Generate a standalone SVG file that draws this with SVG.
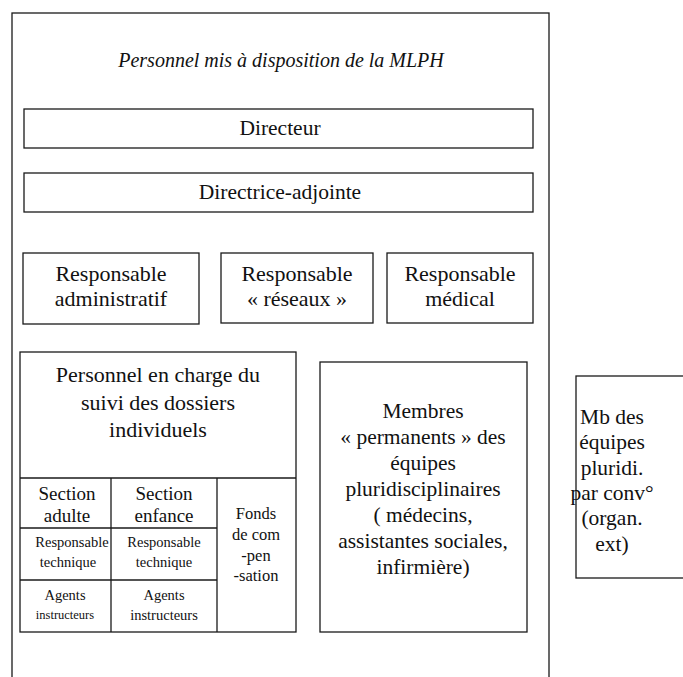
<svg xmlns="http://www.w3.org/2000/svg" width="683" height="677" viewBox="0 0 683 677">
<rect width="683" height="677" fill="#fff"/>
<g fill="none" stroke="#1a1a1a" stroke-width="1.3">
<g id="outer">
<rect x="12" y="13" width="537" height="680"/>
<text font-family="Liberation Serif" fill="#111" stroke="none" text-anchor="middle" font-size="20" font-style="italic" x="281" y="67">Personnel mis &#224; disposition de la MLPH</text>
</g>
<g id="directeur">
<rect x="24" y="109" width="509" height="39"/>
<text font-family="Liberation Serif" fill="#111" stroke="none" text-anchor="middle" font-size="21.5" x="280" y="135">Directeur</text>
</g>
<g id="directrice">
<rect x="24" y="173" width="509" height="39"/>
<text font-family="Liberation Serif" fill="#111" stroke="none" text-anchor="middle" font-size="21.5" x="280" y="199">Directrice-adjointe</text>
</g>
<g id="resp-admin">
<rect x="23" y="253" width="176" height="71"/>
<text font-family="Liberation Serif" fill="#111" stroke="none" text-anchor="middle" font-size="22" x="111" y="281">Responsable</text>
<text font-family="Liberation Serif" fill="#111" stroke="none" text-anchor="middle" font-size="22" x="111" y="306">administratif</text>
</g>
<g id="resp-reseaux">
<rect x="221" y="253" width="152" height="70"/>
<text font-family="Liberation Serif" fill="#111" stroke="none" text-anchor="middle" font-size="22" x="297" y="281">Responsable</text>
<text font-family="Liberation Serif" fill="#111" stroke="none" text-anchor="middle" font-size="22" x="297" y="306">&#171; r&#233;seaux &#187;</text>
</g>
<g id="resp-medical">
<rect x="387" y="253" width="146" height="70"/>
<text font-family="Liberation Serif" fill="#111" stroke="none" text-anchor="middle" font-size="22" x="460" y="281">Responsable</text>
<text font-family="Liberation Serif" fill="#111" stroke="none" text-anchor="middle" font-size="22" x="460" y="306">m&#233;dical</text>
</g>
<g id="personnel">
<rect x="20" y="352" width="276" height="280"/>
<text font-family="Liberation Serif" fill="#111" stroke="none" text-anchor="middle" font-size="22" x="158" y="382">Personnel en charge du</text>
<text font-family="Liberation Serif" fill="#111" stroke="none" text-anchor="middle" font-size="22" x="158" y="410">suivi des dossiers</text>
<text font-family="Liberation Serif" fill="#111" stroke="none" text-anchor="middle" font-size="22" x="158" y="437">individuels</text>
</g>
<g id="connectors">
<line x1="20" y1="478" x2="296" y2="478"/>
<line x1="111" y1="478" x2="111" y2="632"/>
<line x1="217" y1="478" x2="217" y2="632"/>
<line x1="20" y1="528" x2="217" y2="528"/>
<line x1="20" y1="580" x2="217" y2="580"/>
</g>
<g id="section-adulte">
<text font-family="Liberation Serif" fill="#111" stroke="none" text-anchor="middle" font-size="19" x="67" y="500">Section</text>
<text font-family="Liberation Serif" fill="#111" stroke="none" text-anchor="middle" font-size="19" x="67" y="522">adulte</text>
</g>
<g id="section-enfance">
<text font-family="Liberation Serif" fill="#111" stroke="none" text-anchor="middle" font-size="19" x="164" y="500">Section</text>
<text font-family="Liberation Serif" fill="#111" stroke="none" text-anchor="middle" font-size="19" x="164" y="522">enfance</text>
</g>
<g id="resp-tech-adulte">
<text font-family="Liberation Serif" fill="#111" stroke="none" text-anchor="middle" font-size="14.5" x="72" y="547">Responsable</text>
<text font-family="Liberation Serif" fill="#111" stroke="none" text-anchor="middle" font-size="14.5" x="68" y="567">technique</text>
</g>
<g id="resp-tech-enfance">
<text font-family="Liberation Serif" fill="#111" stroke="none" text-anchor="middle" font-size="14.5" x="164" y="547">Responsable</text>
<text font-family="Liberation Serif" fill="#111" stroke="none" text-anchor="middle" font-size="14.5" x="164" y="567">technique</text>
</g>
<g id="agents-adulte">
<text font-family="Liberation Serif" fill="#111" stroke="none" text-anchor="middle" font-size="14.5" x="65" y="600">Agents</text>
<text font-family="Liberation Serif" fill="#111" stroke="none" text-anchor="middle" font-size="12.5" x="65" y="619">instructeurs</text>
</g>
<g id="agents-enfance">
<text font-family="Liberation Serif" fill="#111" stroke="none" text-anchor="middle" font-size="14.5" x="164" y="600">Agents</text>
<text font-family="Liberation Serif" fill="#111" stroke="none" text-anchor="middle" font-size="14.5" x="164" y="620">instructeurs</text>
</g>
<g id="fonds">
<text font-family="Liberation Serif" fill="#111" stroke="none" text-anchor="middle" font-size="16.5" x="256" y="519">Fonds</text>
<text font-family="Liberation Serif" fill="#111" stroke="none" text-anchor="middle" font-size="16.5" x="256" y="540">de com</text>
<text font-family="Liberation Serif" fill="#111" stroke="none" text-anchor="middle" font-size="16.5" x="256" y="561">-pen</text>
<text font-family="Liberation Serif" fill="#111" stroke="none" text-anchor="middle" font-size="16.5" x="256" y="581">-sation</text>
</g>
<g id="membres">
<rect x="320" y="362" width="207" height="270"/>
<text font-family="Liberation Serif" fill="#111" stroke="none" text-anchor="middle" font-size="21.5" x="423" y="418">Membres</text>
<text font-family="Liberation Serif" fill="#111" stroke="none" text-anchor="middle" font-size="21.5" x="423" y="444">&#171; permanents &#187; des</text>
<text font-family="Liberation Serif" fill="#111" stroke="none" text-anchor="middle" font-size="21.5" x="423" y="470">&#233;quipes</text>
<text font-family="Liberation Serif" fill="#111" stroke="none" text-anchor="middle" font-size="21.5" x="423" y="496">pluridisciplinaires</text>
<text font-family="Liberation Serif" fill="#111" stroke="none" text-anchor="middle" font-size="21.5" x="423" y="522">(  m&#233;decins,</text>
<text font-family="Liberation Serif" fill="#111" stroke="none" text-anchor="middle" font-size="21.5" x="423" y="548">assistantes sociales,</text>
<text font-family="Liberation Serif" fill="#111" stroke="none" text-anchor="middle" font-size="21.5" x="423" y="574">infirmi&#232;re)</text>
</g>
<g id="mb-equipes">
<rect x="576" y="376" width="120" height="202"/>
<text font-family="Liberation Serif" fill="#111" stroke="none" text-anchor="middle" font-size="21.5" x="612" y="424">Mb des</text>
<text font-family="Liberation Serif" fill="#111" stroke="none" text-anchor="middle" font-size="21.5" x="612" y="449">&#233;quipes</text>
<text font-family="Liberation Serif" fill="#111" stroke="none" text-anchor="middle" font-size="21.5" x="612" y="475">pluridi.</text>
<text font-family="Liberation Serif" fill="#111" stroke="none" text-anchor="middle" font-size="21.5" x="612" y="500">par conv&#176;</text>
<text font-family="Liberation Serif" fill="#111" stroke="none" text-anchor="middle" font-size="21.5" x="612" y="525">(organ.</text>
<text font-family="Liberation Serif" fill="#111" stroke="none" text-anchor="middle" font-size="21.5" x="612" y="551">ext)</text>
</g>
</g>
</svg>
